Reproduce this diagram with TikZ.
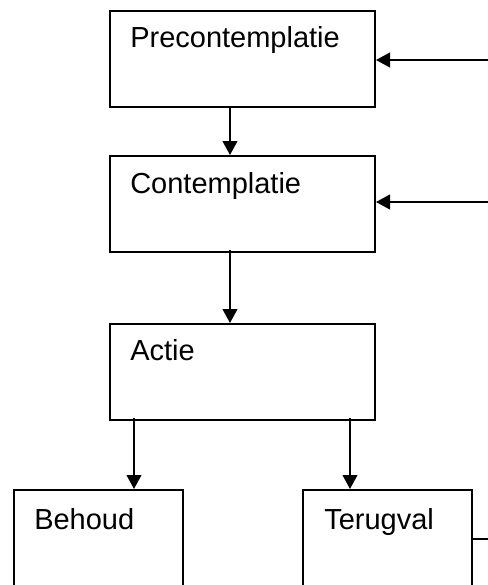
\documentclass[tikz,border=0pt]{standalone}
\usepackage{fontspec}
\setmainfont{Liberation Sans}
\usetikzlibrary{arrows.meta}
\begin{document}
\begin{tikzpicture}[x=0.75pt,y=-0.75pt,
  stage/.style={draw=black,line width=1.5pt,rectangle,anchor=north west,
    minimum width=198.75pt,minimum height=72pt,inner sep=0pt},
  small/.style={stage,minimum width=126.75pt},
  lbl/.style={anchor=base west,inner sep=0pt,font=\fontsize{21.75}{26}\selectfont},
  link/.style={line width=1.5pt,-{Triangle[length=10.5pt,width=11pt]}},
  plain/.style={line width=1.5pt}]
  \clip (0,0) rectangle (488,585);
  % stage boxes
  \node[stage] (pre)  at (109,10)  {};
  \node[stage] (con)  at (109,155) {};
  \node[stage] (act)  at (109,323) {};
  \node[small] (beh)  at (13,489)  {};
  \node[small] (ter)  at (302,489) {};
  % box titles
  \node[lbl] (preT) at ([shift={(21,38)}]pre.north west) {Precontemplatie};
  \node[lbl] (conT) at ([shift={(21,38)}]con.north west) {Contemplatie};
  \node[lbl] (actT) at ([shift={(21,37)}]act.north west) {Actie};
  \node[lbl] (behT) at ([shift={(21,40)}]beh.north west) {Behoud};
  \node[lbl] (terT) at ([shift={(22,40)}]ter.north west) {Terugval};
  % vertical flow
  \coordinate (c1) at (230,106);
  \coordinate (c2) at (230,250);
  \coordinate (c3) at (134,418);
  \coordinate (c4) at (350,418);
  \draw[link] (c1) -- (c1 |- con.north);
  \draw[link] (c2) -- (c2 |- act.north);
  \draw[link] (c3) -- (c3 |- beh.north);
  \draw[link] (c4) -- (c4 |- ter.north);
  % feedback lines on the right
  \coordinate (r1) at (495,60);
  \coordinate (r2) at (495,202);
  \coordinate (r3) at (495,539);
  \draw[link] (r1) -- (r1 -| pre.east);
  \draw[link] (r2) -- (r2 -| con.east);
  \draw[plain] (r3 -| ter.east) -- (r3);
\end{tikzpicture}
\end{document}
